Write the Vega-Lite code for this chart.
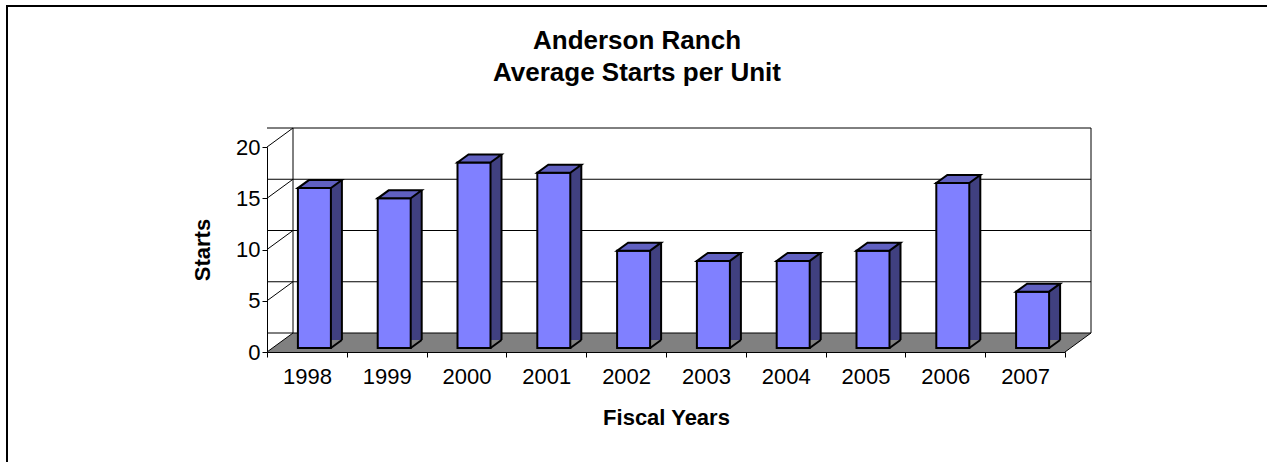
{
  "$schema": "https://vega.github.io/schema/vega-lite/v6.json",
  "width": 798,
  "height": 205,
  "autosize": {"type": "none"},
  "padding": {"left": 267, "top": 147, "right": 202, "bottom": 110},
  "background": "white",
  "title": {
    "text": ["Anderson Ranch", "Average Starts per Unit"],
    "font": "Liberation Sans",
    "fontSize": 26,
    "fontWeight": "bold",
    "color": "black",
    "lineHeight": 32,
    "anchor": "middle",
    "frame": "group",
    "dx": -29,
    "offset": -84
  },
  "datasets": {
    "starts": [
      {"year": "1998", "starts": 15.6},
      {"year": "1999", "starts": 14.6},
      {"year": "2000", "starts": 18.1},
      {"year": "2001", "starts": 17.1},
      {"year": "2002", "starts": 9.5},
      {"year": "2003", "starts": 8.5},
      {"year": "2004", "starts": 8.5},
      {"year": "2005", "starts": 9.5},
      {"year": "2006", "starts": 16.1},
      {"year": "2007", "starts": 5.5}
    ],
    "ticks": [{"v": 0}, {"v": 5}, {"v": 10}, {"v": 15}, {"v": 20}]
  },
  "data": {"name": "starts"},
  "layer": [
    {
      "data": {"values": [{}]},
      "mark": {"type": "point", "shape": "M-260,330L-260,-141L1010,-141", "size": 4, "filled": false, "stroke": "black", "strokeWidth": 2, "opacity": 1},
      "encoding": {
        "x": {"datum": "1998", "type": "ordinal", "bandPosition": 0, "title": "Fiscal Years"},
        "y": {"datum": 20, "type": "quantitative", "title": "Starts"}
      }
    },
    {
      "data": {"values": [{}]},
      "mark": {"type": "point", "shape": "M0,0L798,0L824,-19L26,-19Z", "size": 4, "filled": true, "fill": "#808080", "strokeWidth": 0, "opacity": 1},
      "encoding": {
        "x": {"datum": "1998", "type": "ordinal", "bandPosition": 0, "title": "Fiscal Years"},
        "y": {"datum": 0, "type": "quantitative", "title": "Starts"}
      }
    },
    {
      "data": {"name": "ticks"},
      "mark": {"type": "rule", "color": "black", "strokeWidth": 1, "xOffset": 26, "x2Offset": 26, "yOffset": -19},
      "encoding": {
        "y": {"field": "v", "type": "quantitative", "title": "Starts"}
      }
    },
    {
      "data": {"values": [{}]},
      "mark": {"type": "rule", "color": "black", "strokeWidth": 1, "xOffset": 26, "yOffset": -19, "y2Offset": -19},
      "encoding": {
        "x": {"datum": "1998", "type": "ordinal", "bandPosition": 0, "title": "Fiscal Years"},
        "y": {"datum": 0, "type": "quantitative", "title": "Starts"},
        "y2": {"datum": 20}
      }
    },
    {
      "data": {"values": [{}]},
      "mark": {"type": "rule", "color": "black", "strokeWidth": 1, "xOffset": 26, "yOffset": -19, "y2Offset": -19},
      "encoding": {
        "x": {"datum": "2007", "type": "ordinal", "bandPosition": 1, "title": "Fiscal Years"},
        "y": {"datum": 0, "type": "quantitative", "title": "Starts"},
        "y2": {"datum": 20}
      }
    },
    {
      "data": {"name": "ticks"},
      "mark": {"type": "point", "shape": "M0,0L26,-19", "size": 4, "filled": false, "stroke": "black", "strokeWidth": 1, "opacity": 1},
      "encoding": {
        "x": {"datum": "1998", "type": "ordinal", "bandPosition": 0, "title": "Fiscal Years"},
        "y": {"field": "v", "type": "quantitative", "title": "Starts"}
      }
    },
    {
      "data": {"values": [{}]},
      "mark": {"type": "point", "shape": "M0,0L26,-19", "size": 4, "filled": false, "stroke": "black", "strokeWidth": 1, "opacity": 1},
      "encoding": {
        "x": {"datum": "2007", "type": "ordinal", "bandPosition": 1, "title": "Fiscal Years"},
        "y": {"datum": 0, "type": "quantitative", "title": "Starts"}
      }
    },
    {
      "mark": {"type": "bar", "width": 11, "xOffset": 29.5, "yOffset": -12, "y2Offset": -4, "fill": "#404080", "strokeWidth": 0},
      "encoding": {
        "x": {"field": "year", "type": "ordinal", "title": "Fiscal Years"},
        "y": {"field": "starts", "type": "quantitative", "title": "Starts"}
      }
    },
    {
      "mark": {"type": "point", "shape": "M24,0L35,0L35,-8Z", "size": 4, "filled": true, "fill": "#808080", "strokeWidth": 0, "opacity": 1, "yOffset": -4},
      "encoding": {
        "x": {"field": "year", "type": "ordinal", "title": "Fiscal Years"},
        "y": {"datum": 0, "type": "quantitative", "title": "Starts"}
      }
    },
    {
      "mark": {"type": "point", "shape": "M24,0L35,-8", "size": 4, "filled": false, "stroke": "black", "strokeWidth": 2, "opacity": 1, "yOffset": -4},
      "encoding": {
        "x": {"field": "year", "type": "ordinal", "title": "Fiscal Years"},
        "y": {"datum": 0, "type": "quantitative", "title": "Starts"}
      }
    },
    {
      "mark": {"type": "rule", "color": "black", "strokeWidth": 2, "xOffset": 35, "yOffset": -12, "y2Offset": -12},
      "encoding": {
        "x": {"field": "year", "type": "ordinal", "title": "Fiscal Years"},
        "y": {"field": "starts", "type": "quantitative", "title": "Starts"},
        "y2": {"datum": 0}
      }
    },
    {
      "mark": {"type": "bar", "width": 33, "xOffset": 7.5, "yOffset": -4, "y2Offset": -4, "fill": "#8080FF", "stroke": "black", "strokeWidth": 2},
      "encoding": {
        "x": {
          "field": "year",
          "type": "ordinal",
          "title": "Fiscal Years",
          "scale": {"type": "band", "paddingInner": 0, "paddingOuter": 0}
        },
        "y": {
          "field": "starts",
          "type": "quantitative",
          "title": "Starts",
          "scale": {"domain": [0, 20], "nice": false},
          "axis": {"values": [0, 5, 10, 15, 20]}
        }
      }
    },
    {
      "mark": {"type": "point", "shape": "M-9,0L24,0L35,-8L2,-8Z", "size": 4, "filled": true, "fill": "#6060C0", "stroke": "black", "strokeWidth": 2, "opacity": 1, "yOffset": -4},
      "encoding": {
        "x": {"field": "year", "type": "ordinal", "title": "Fiscal Years"},
        "y": {"field": "starts", "type": "quantitative", "title": "Starts"}
      }
    }
  ],
  "config": {
    "view": {"stroke": null},
    "font": "Liberation Sans",
    "axis": {
      "grid": false,
      "domainColor": "black",
      "tickColor": "black",
      "tickSize": 5,
      "labelFont": "Liberation Sans",
      "labelFontSize": 22,
      "labelColor": "black",
      "titleFont": "Liberation Sans",
      "titleFontSize": 22,
      "titleFontWeight": "bold",
      "titleColor": "black"
    },
    "axisX": {
      "labelAngle": 0,
      "tickBand": "extent",
      "labelPadding": 9,
      "titlePadding": 20
    },
    "axisY": {
      "labelPadding": 2,
      "titlePadding": 21,
      "tickCount": 5
    }
  }
}
